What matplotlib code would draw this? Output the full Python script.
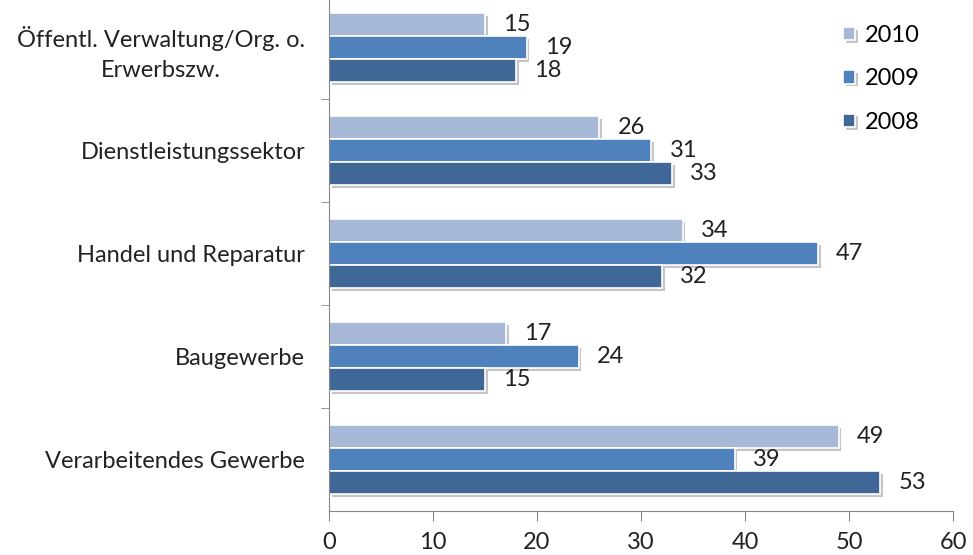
import numpy as np
import matplotlib.pyplot as plt
from matplotlib import patheffects as pe

plt.rcParams["font.family"] = ["Lato", "DejaVu Sans"]

# branches, top to bottom
branches = [
    "Öffentl. Verwaltung/Org. o.\nErwerbszw.",
    "Dienstleistungssektor",
    "Handel und Reparatur",
    "Baugewerbe",
    "Verarbeitendes Gewerbe",
]
years = ["2010", "2009", "2008"]
v2010 = [15, 26, 34, 17, 49]
v2009 = [19, 31, 47, 24, 39]
v2008 = [18, 33, 32, 15, 53]
colors = ["#A8B9D8", "#4F81BD", "#3F6897"]

fs = 17

fig = plt.figure(figsize=(9.73, 5.55), dpi=100)
ax = fig.add_axes([0.338, 0.0793, 0.6415, 0.928])

y = np.arange(len(branches))
bar_h = 0.222
shadow = [pe.SimplePatchShadow(offset=(2, -2), shadow_rgbFace="#808080", alpha=0.45), pe.Normal()]

for k, (label, vals, col) in enumerate(zip(years, [v2010, v2009, v2008], colors)):
    pos = y + (k - 1) * bar_h
    bars = ax.barh(pos, vals, height=bar_h, color=col, edgecolor="white",
                   linewidth=1.2, label=label)
    for b in bars:
        b.set_path_effects(shadow)
    for p, v in zip(pos, vals):
        ax.annotate(str(v), (v, p), xytext=(13, 0), textcoords="offset points",
                    va="center", ha="left", fontsize=fs, color="#222222")

ax.set_xlim(0, 60)
ax.set_ylim(len(branches) - 0.5, -0.5)
ax.set_xticks(range(0, 61, 10))
ax.set_yticks(y)
ax.set_yticklabels(branches, fontsize=fs, ha="right", multialignment="center",
                   linespacing=1.5)
ax.set_yticks(np.arange(0.5, len(branches) - 0.5), minor=True)

ax.tick_params(axis="y", which="major", length=0, pad=17, colors="#222222")
ax.tick_params(axis="y", which="minor", length=6, color="#868686")
ax.tick_params(axis="x", length=7, color="#868686", pad=8, labelsize=fs, labelcolor="#222222")

for side in ["top", "right"]:
    ax.spines[side].set_visible(False)
for side in ["left", "bottom"]:
    ax.spines[side].set_color("#868686")

ax.legend(loc="upper left", bbox_to_anchor=(0.79, 0.985), frameon=False, fontsize=fs,
          handlelength=0.5, handleheight=0.5, handletextpad=0.4, labelspacing=0.95)

fig.savefig("out.png", dpi=100)
